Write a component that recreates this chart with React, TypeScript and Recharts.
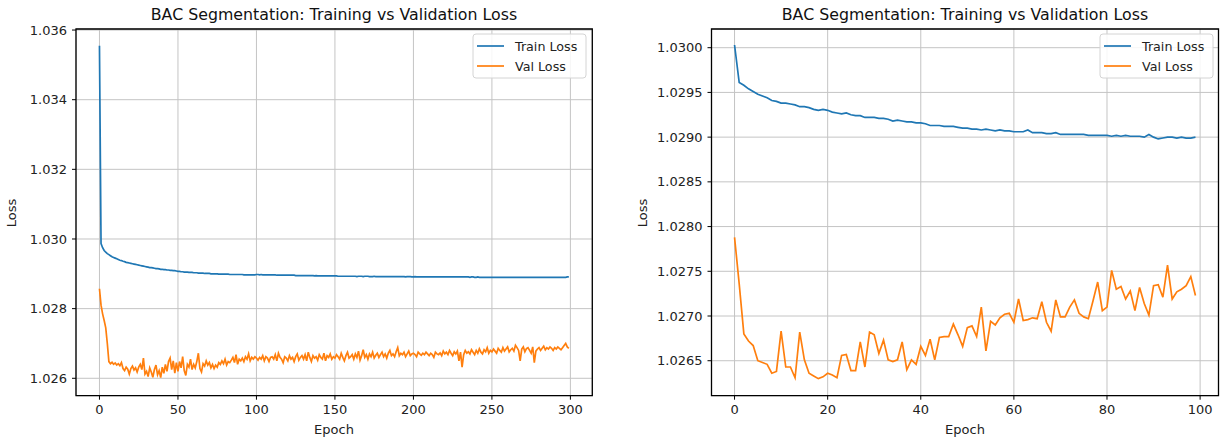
import React from 'react';
import { LineChart, Line, XAxis, YAxis, CartesianGrid, ReferenceArea } from 'recharts';

const TITLE = 'BAC Segmentation: Training vs Validation Loss';
const SERIES_NAMES = ['Train Loss', 'Val Loss'];
const COLORS = ['#1f77b4', '#ff7f0e'];

// Left panel (300 epochs)
const leftTrain = [
  1.03555, 1.02987, 1.02975, 1.02967, 1.02962, 1.02958, 1.02955, 1.02952, 1.02949, 1.02947,
  1.02945, 1.02943, 1.02941, 1.02939, 1.02938, 1.02936, 1.02935, 1.02933, 1.02932, 1.02931,
  1.02930, 1.02929, 1.02928, 1.02927, 1.02926, 1.02925, 1.02924, 1.02923, 1.02922, 1.02921,
  1.02920, 1.02919, 1.02918, 1.02918, 1.02917, 1.02916, 1.02915, 1.02915, 1.02914, 1.02913,
  1.02913, 1.02912, 1.02912, 1.02911, 1.02911, 1.02910, 1.02910, 1.02909, 1.02909, 1.02908,
  1.02907, 1.02907, 1.02906, 1.02906, 1.02905, 1.02905, 1.02905, 1.02904, 1.02904, 1.02904,
  1.02903, 1.02903, 1.02903, 1.02902, 1.02902, 1.02902, 1.02902, 1.02901, 1.02901, 1.02901,
  1.02901, 1.02900, 1.02900, 1.02900, 1.02900, 1.02900, 1.02899, 1.02899, 1.02899, 1.02899,
  1.02899, 1.02899, 1.02899, 1.02898, 1.02898, 1.02898, 1.02898, 1.02898, 1.02898, 1.02898,
  1.02898, 1.02898, 1.02897, 1.02897, 1.02897, 1.02897, 1.02897, 1.02897, 1.02897, 1.02897,
  1.02898, 1.02898, 1.02897, 1.02898, 1.02897, 1.02897, 1.02897, 1.02897, 1.02897, 1.02897,
  1.02897, 1.02897, 1.02897, 1.02896, 1.02896, 1.02896, 1.02896, 1.02896, 1.02896, 1.02896,
  1.02896, 1.02896, 1.02896, 1.02896, 1.02896, 1.02895, 1.02895, 1.02895, 1.02895, 1.02895,
  1.02895, 1.02895, 1.02895, 1.02895, 1.02895, 1.02895, 1.02895, 1.02894, 1.02895, 1.02894,
  1.02894, 1.02894, 1.02894, 1.02894, 1.02894, 1.02894, 1.02894, 1.02894, 1.02894, 1.02894,
  1.02894, 1.02894, 1.02893, 1.02893, 1.02893, 1.02893, 1.02893, 1.02893, 1.02893, 1.02893,
  1.02893, 1.02893, 1.02893, 1.02893, 1.02892, 1.02893, 1.02893, 1.02893, 1.02892, 1.02893,
  1.02893, 1.02893, 1.02892, 1.02892, 1.02892, 1.02893, 1.02892, 1.02892, 1.02892, 1.02892,
  1.02892, 1.02892, 1.02892, 1.02892, 1.02892, 1.02892, 1.02892, 1.02892, 1.02892, 1.02892,
  1.02892, 1.02892, 1.02892, 1.02892, 1.02892, 1.02891, 1.02892, 1.02892, 1.02892, 1.02891,
  1.02891, 1.02892, 1.02891, 1.02891, 1.02891, 1.02891, 1.02891, 1.02891, 1.02891, 1.02891,
  1.02891, 1.02891, 1.02891, 1.02891, 1.02891, 1.02891, 1.02891, 1.02891, 1.02891, 1.02891,
  1.02891, 1.02891, 1.02891, 1.02891, 1.02891, 1.02891, 1.02891, 1.02891, 1.02891, 1.02891,
  1.02891, 1.02891, 1.02891, 1.02891, 1.02891, 1.02891, 1.02890, 1.02891, 1.02891, 1.02890,
  1.02890, 1.02891, 1.02890, 1.02890, 1.02890, 1.02890, 1.02890, 1.02890, 1.02890, 1.02890,
  1.02890, 1.02890, 1.02890, 1.02890, 1.02890, 1.02890, 1.02890, 1.02890, 1.02890, 1.02890,
  1.02890, 1.02890, 1.02890, 1.02890, 1.02890, 1.02890, 1.02890, 1.02890, 1.02890, 1.02890,
  1.02890, 1.02890, 1.02890, 1.02890, 1.02890, 1.02890, 1.02890, 1.02890, 1.02890, 1.02890,
  1.02890, 1.02890, 1.02890, 1.02890, 1.02890, 1.02890, 1.02890, 1.02890, 1.02890, 1.02890,
  1.02890, 1.02890, 1.02890, 1.02890, 1.02890, 1.02890, 1.02890, 1.02890, 1.02891, 1.02891,
];

const leftVal = [
  1.02857, 1.02810, 1.02785, 1.02766, 1.02745, 1.02700, 1.02648, 1.02642, 1.02646, 1.02640,
  1.02644, 1.02638, 1.02642, 1.02636, 1.02645, 1.02628, 1.02622, 1.02632, 1.02626, 1.02612,
  1.02628, 1.02635, 1.02624, 1.02630, 1.02618, 1.02632, 1.02640, 1.02625, 1.02658, 1.02612,
  1.02620, 1.02605, 1.02630, 1.02618, 1.02603, 1.02625, 1.02638, 1.02610, 1.02622, 1.02602,
  1.02632, 1.02614, 1.02640, 1.02620, 1.02648, 1.02658, 1.02625, 1.02650, 1.02615, 1.02645,
  1.02620, 1.02648, 1.02630, 1.02662, 1.02622, 1.02608, 1.02640, 1.02632, 1.02655, 1.02625,
  1.02640, 1.02630, 1.02648, 1.02672, 1.02628, 1.02618, 1.02642, 1.02635, 1.02650, 1.02638,
  1.02645, 1.02630, 1.02640, 1.02628, 1.02638, 1.02632, 1.02645, 1.02640, 1.02650, 1.02642,
  1.02655, 1.02638, 1.02648, 1.02645, 1.02652, 1.02660, 1.02645, 1.02668, 1.02640, 1.02655,
  1.02650, 1.02658, 1.02648, 1.02662, 1.02655, 1.02670, 1.02650, 1.02660, 1.02655, 1.02662,
  1.02658, 1.02652, 1.02660, 1.02655, 1.02665, 1.02650, 1.02662, 1.02658, 1.02648, 1.02660,
  1.02662, 1.02655, 1.02668, 1.02650, 1.02672, 1.02660, 1.02655, 1.02645, 1.02662, 1.02658,
  1.02650, 1.02665, 1.02655, 1.02660, 1.02648, 1.02662, 1.02670, 1.02652, 1.02660, 1.02665,
  1.02655, 1.02668, 1.02650, 1.02675, 1.02660, 1.02648, 1.02665, 1.02658, 1.02662, 1.02652,
  1.02668, 1.02660, 1.02655, 1.02672, 1.02650, 1.02665, 1.02660, 1.02670, 1.02655, 1.02662,
  1.02658, 1.02668, 1.02662, 1.02655, 1.02672, 1.02660, 1.02650, 1.02665, 1.02675, 1.02658,
  1.02662, 1.02668, 1.02655, 1.02670, 1.02660, 1.02678, 1.02652, 1.02665, 1.02682, 1.02660,
  1.02668, 1.02655, 1.02670, 1.02662, 1.02675, 1.02658, 1.02666, 1.02672, 1.02660, 1.02668,
  1.02675, 1.02662, 1.02670, 1.02658, 1.02672, 1.02680, 1.02665, 1.02670, 1.02662, 1.02676,
  1.02688, 1.02665, 1.02672, 1.02668, 1.02675, 1.02662, 1.02670, 1.02678, 1.02665, 1.02670,
  1.02672, 1.02668, 1.02662, 1.02675, 1.02670, 1.02666, 1.02672, 1.02668, 1.02675, 1.02670,
  1.02665, 1.02672, 1.02668, 1.02660, 1.02675, 1.02670, 1.02668, 1.02673, 1.02665, 1.02678,
  1.02670, 1.02675, 1.02668, 1.02680, 1.02672, 1.02665, 1.02676, 1.02670, 1.02678, 1.02650,
  1.02675, 1.02632, 1.02668, 1.02680, 1.02672, 1.02676, 1.02670, 1.02682, 1.02675, 1.02668,
  1.02680, 1.02672, 1.02685, 1.02675, 1.02670, 1.02682, 1.02676, 1.02688, 1.02672, 1.02680,
  1.02676, 1.02684, 1.02678, 1.02672, 1.02686, 1.02680, 1.02675, 1.02688, 1.02678, 1.02684,
  1.02690, 1.02676, 1.02682, 1.02686, 1.02678, 1.02695, 1.02688, 1.02680, 1.02650, 1.02684,
  1.02690, 1.02676, 1.02685, 1.02688, 1.02680, 1.02672, 1.02690, 1.02645, 1.02678, 1.02684,
  1.02688, 1.02680, 1.02686, 1.02692, 1.02682, 1.02688, 1.02684, 1.02690, 1.02686, 1.02680,
  1.02688, 1.02684, 1.02690, 1.02686, 1.02682, 1.02688, 1.02694, 1.02700, 1.02690, 1.02686,
];

// Right panel (100 epochs)
const rightTrain = [
  1.03003, 1.02961, 1.02958, 1.02954, 1.02951, 1.02948, 1.02946, 1.02944, 1.02941, 1.02940,
  1.02938, 1.02938, 1.02937, 1.02936, 1.02934, 1.02934, 1.02933, 1.02931, 1.02930, 1.02931,
  1.02930, 1.02928, 1.02927, 1.02926, 1.02927, 1.02925, 1.02924, 1.02924, 1.02922, 1.02922,
  1.02922, 1.02921, 1.02921, 1.02920, 1.02918, 1.02919, 1.02918, 1.02917, 1.02917, 1.02916,
  1.02916, 1.02915, 1.02913, 1.02913, 1.02913, 1.02912, 1.02912, 1.02912, 1.02911, 1.02910,
  1.02910, 1.02909, 1.02909, 1.02908, 1.02909, 1.02908, 1.02907, 1.02908, 1.02907, 1.02907,
  1.02906, 1.02906, 1.02906, 1.02908, 1.02905, 1.02905, 1.02905, 1.02904, 1.02904, 1.02905,
  1.02903, 1.02903, 1.02903, 1.02903, 1.02903, 1.02903, 1.02902, 1.02902, 1.02902, 1.02902,
  1.02902, 1.02901, 1.02902, 1.02901, 1.02902, 1.02901, 1.02901, 1.02901, 1.02900, 1.02903,
  1.02900, 1.02898, 1.02899, 1.02900, 1.02900, 1.02899, 1.02900, 1.02899, 1.02899, 1.02900,
];

const rightVal = [
  1.02788, 1.02736, 1.02680, 1.02672, 1.02667, 1.02650, 1.02648, 1.02646, 1.02636, 1.02638,
  1.02683, 1.02643, 1.02643, 1.02631, 1.02682, 1.02651, 1.02636, 1.02633, 1.02630, 1.02632,
  1.02636, 1.02634, 1.02631, 1.02656, 1.02657, 1.02639, 1.02639, 1.02671, 1.02643, 1.02682,
  1.02679, 1.02658, 1.02673, 1.02651, 1.02649, 1.02651, 1.02671, 1.02640, 1.02651, 1.02646,
  1.02666, 1.02656, 1.02674, 1.02651, 1.02676, 1.02677, 1.02677, 1.02691, 1.02679, 1.02666,
  1.02687, 1.02689, 1.02677, 1.02710, 1.02661, 1.02694, 1.02690, 1.02698, 1.02702, 1.02703,
  1.02693, 1.02719, 1.02695, 1.02696, 1.02698, 1.02697, 1.02716, 1.02693, 1.02683, 1.02718,
  1.02699, 1.02699, 1.02710, 1.02718, 1.02703, 1.02699, 1.02697, 1.02717, 1.02738, 1.02706,
  1.02710, 1.02751, 1.02730, 1.02733, 1.02719, 1.02728, 1.02706, 1.02732, 1.02714, 1.02701,
  1.02734, 1.02735, 1.02721, 1.02757, 1.02719, 1.02727, 1.02730, 1.02734, 1.02744, 1.02723,
];

const leftXTicks = [0, 50, 100, 150, 200, 250, 300];
const leftYTicks = [1.026, 1.028, 1.03, 1.032, 1.034, 1.036];
const rightXTicks = [0, 20, 40, 60, 80, 100];
const rightYTicks = [1.0265, 1.027, 1.0275, 1.028, 1.0285, 1.029, 1.0295, 1.03];

const leftData = leftTrain.map((v, i) => ({ epoch: i, train: v, val: leftVal[i] }));
const rightData = rightTrain.map((v, i) => ({ epoch: i, train: v, val: rightVal[i] }));

const FONT = 'DejaVu Sans, sans-serif';
const tickStyle = { fontSize: 13, fill: '#222', fontFamily: FONT };

type PanelProps = {
  data: any[];
  left: number;
  width: number;
  yAxisWidth: number;
  marginRight: number;
  xDomain: [number, number];
  yDomain: [number, number];
  xTicks: number[];
  yTicks: number[];
  yDigits: number;
};

function Panel(p: PanelProps) {
  return (
    <div style={{ position: 'absolute', left: p.left, top: 0 }}>
      <LineChart
        width={p.width}
        height={443}
        data={p.data}
        margin={{ top: 29, right: p.marginRight, left: 0, bottom: 0 }}
      >
        <CartesianGrid stroke="#c4c4c4" strokeWidth={1} />
        <XAxis
          dataKey="epoch"
          type="number"
          domain={p.xDomain}
          ticks={p.xTicks}
          allowDataOverflow
          height={47.3}
          tickSize={4}
          tickMargin={5}
          axisLine={false}
          tickLine={{ stroke: '#000' }}
          tick={tickStyle}
          interval={0}
        />
        <YAxis
          type="number"
          domain={p.yDomain}
          ticks={p.yTicks}
          allowDataOverflow
          width={p.yAxisWidth}
          tickSize={4}
          tickMargin={5}
          axisLine={false}
          tickLine={{ stroke: '#000' }}
          tick={tickStyle}
          interval={0}
          tickFormatter={(v: number) => v.toFixed(p.yDigits)}
        />
        <Line
          type="linear"
          dataKey="train"
          stroke={COLORS[0]}
          strokeWidth={1.7}
          dot={false}
          isAnimationActive={false}
        />
        <Line
          type="linear"
          dataKey="val"
          stroke={COLORS[1]}
          strokeWidth={1.7}
          dot={false}
          isAnimationActive={false}
        />
        <ReferenceArea
          x1={p.xDomain[0]}
          x2={p.xDomain[1]}
          y1={p.yDomain[0]}
          y2={p.yDomain[1]}
          stroke="#000"
          strokeWidth={1.3}
          fill="none"
          fillOpacity={0}
        />
      </LineChart>
    </div>
  );
}

function LegendBox({ x, y }: { x: number; y: number }) {
  return (
    <g>
      <rect x={x} y={y} width={113} height={44} rx={3} fill="#fff" fillOpacity={0.85} stroke="#d4d4d4" />
      {SERIES_NAMES.map((n, i) => (
        <g key={n}>
          <line x1={x + 4} x2={x + 31} y1={y + 12 + i * 20} y2={y + 12 + i * 20} stroke={COLORS[i]} strokeWidth={1.7} />
          <text x={x + 42} y={y + 12 + i * 20} dominantBaseline="central" fontSize={12.7} fontFamily={FONT} fill="#222">
            {n}
          </text>
        </g>
      ))}
    </g>
  );
}

export default function App() {
  return (
    <div style={{ position: 'fixed', left: 0, top: 0, width: 1220, height: 443, background: '#fff', overflow: 'hidden' }}>
      <Panel
        data={leftData}
        left={0}
        width={600}
        yAxisWidth={76}
        marginRight={7.7}
        xDomain={[-14.95, 313.95]}
        yDomain={[1.0255, 1.03603]}
        xTicks={leftXTicks}
        yTicks={leftYTicks}
        yDigits={3}
      />
      <Panel
        data={rightData}
        left={610}
        width={610}
        yAxisWidth={101.5}
        marginRight={1.5}
        xDomain={[-4.95, 103.95]}
        yDomain={[1.026109, 1.030209]}
        xTicks={rightXTicks}
        yTicks={rightYTicks}
        yDigits={4}
      />
      <svg width={1220} height={443} style={{ position: 'absolute', left: 0, top: 0, pointerEvents: 'none' }}>
        <text x={334} y={20} textAnchor="middle" fontSize={15.8} fontFamily={FONT} fill="#111">{TITLE}</text>
        <text x={965} y={20} textAnchor="middle" fontSize={15.8} fontFamily={FONT} fill="#111">{TITLE}</text>
        <text x={334} y={434} textAnchor="middle" fontSize={13} fontFamily={FONT} fill="#222">Epoch</text>
        <text x={965} y={434} textAnchor="middle" fontSize={13} fontFamily={FONT} fill="#222">Epoch</text>
        <text x={0} y={0} transform="translate(16,213) rotate(-90)" textAnchor="middle" fontSize={13} fontFamily={FONT} fill="#222">Loss</text>
        <text x={0} y={0} transform="translate(647,213) rotate(-90)" textAnchor="middle" fontSize={13} fontFamily={FONT} fill="#222">Loss</text>
        <LegendBox x={473} y={34} />
        <LegendBox x={1100} y={34} />
      </svg>
    </div>
  );
}
